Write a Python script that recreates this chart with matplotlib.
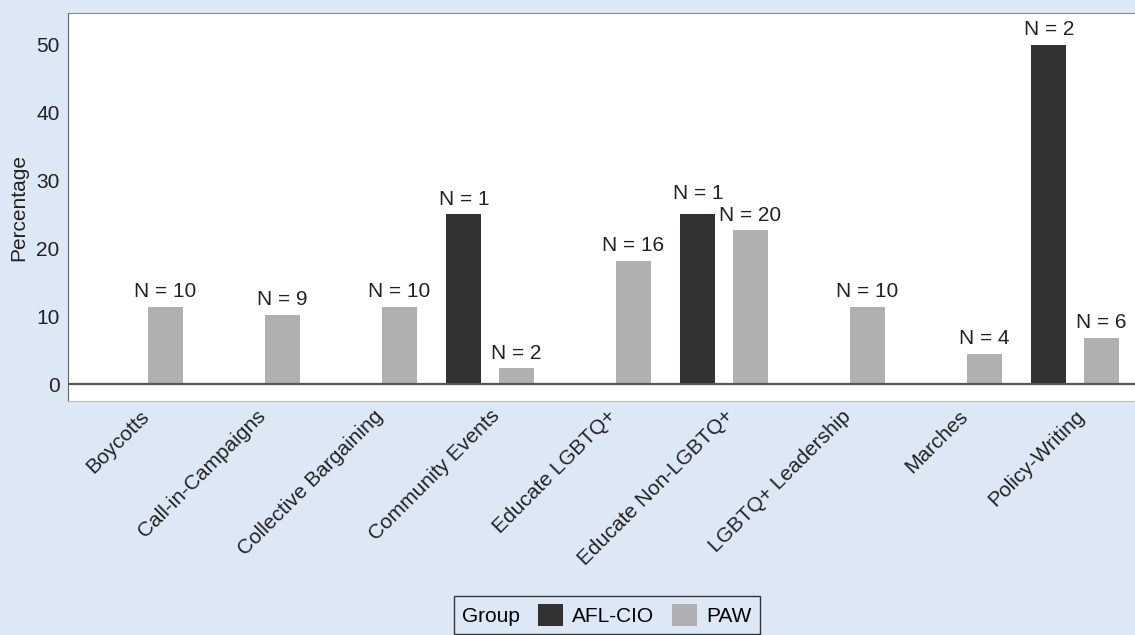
import numpy as np
import matplotlib
matplotlib.use("Agg")
import matplotlib.pyplot as plt
from matplotlib.patches import Patch

plt.rcParams['font.family'] = ['Liberation Sans', 'DejaVu Sans']

# data
categories = ["Boycotts", "Call-in-Campaigns", "Collective Bargaining",
              "Community Events", "Educate LGBTQ+", "Educate Non-LGBTQ+",
              "LGBTQ+ Leadership", "Marches", "Policy-Writing"]
afl_pct = [np.nan, np.nan, np.nan, 25.0, np.nan, 25.0, np.nan, np.nan, 50.0]
afl_n = [None, None, None, 1, None, 1, None, None, 2]
paw_pct = [11.4, 10.2, 11.4, 2.3, 18.2, 22.7, 11.4, 4.5, 6.8]
paw_n = [10, 9, 10, 2, 16, 20, 10, 4, 6]
y_ticks = [0, 10, 20, 30, 40, 50]

bg = "#dde8f6"
afl_col = "#333132"
paw_col = "#b0b0b2"
txt_col = "#222222"

fig = plt.figure(figsize=(11.35, 6.35), dpi=100, facecolor=bg)
ax = fig.add_axes([0.0599, 0.3685, 0.9401, 0.611])

x = np.arange(len(categories))
off = 0.224
w = 0.30

ax.bar(x - off, afl_pct, width=w, color=afl_col, zorder=2)
ax.bar(x + off, paw_pct, width=w, color=paw_col, zorder=2)

for xi, v, n, pv in zip(x, afl_pct, afl_n, paw_pct):
    if n is not None:
        # lift the label a bit when the neighbouring bar label is close
        dy = 8 if abs(v - pv) < 4 else 4
        ax.annotate(f"N = {n}", (xi - off, v), xytext=(0, dy),
                    textcoords="offset points", ha="center", va="bottom",
                    fontsize=15, color=txt_col)
for xi, v, n in zip(x, paw_pct, paw_n):
    ax.annotate(f"N = {n}", (xi + off, v), xytext=(0, 4),
                textcoords="offset points", ha="center", va="bottom",
                fontsize=15, color=txt_col)

ax.axhline(0, color="#555555", lw=1.6, zorder=3)

ax.set_xlim(-0.608, 8.513)
ax.set_ylim(-2.5, 54.7)
ax.set_yticks(y_ticks)
ax.set_xticks(x)
ax.set_xticklabels(categories, rotation=45, ha="right", rotation_mode="anchor")
ax.tick_params(axis="both", length=0, labelsize=15, colors=txt_col)
ax.tick_params(axis="y", pad=6)
ax.tick_params(axis="x", pad=4)
ax.set_ylabel("Percentage", fontsize=15, color=txt_col, labelpad=6)

ax.spines["right"].set_visible(False)
ax.spines["left"].set_color("#666666")
ax.spines["top"].set_color("#888888")
ax.spines["bottom"].set_color("#bbbbbb")

handles = [Patch(facecolor=afl_col), Patch(facecolor=paw_col)]
leg = fig.legend(handles, ["AFL-CIO", "PAW"], title="Group", ncol=2,
                 loc="upper center", bbox_to_anchor=(0.535, 0.0614),
                 borderaxespad=0,
                 fontsize=15, title_fontsize=15, frameon=True, fancybox=False,
                 edgecolor="#333333", facecolor=bg, framealpha=1,
                 handlelength=1.2, handleheight=1.2, handletextpad=0.45,
                 columnspacing=0.85, borderpad=0.4)
leg.get_frame().set_linewidth(1.0)
# put the title to the left of the entries
c = leg.get_children()[0]
title = c.get_children()[0]
hpack = c.get_children()[1]
c._children = [hpack]
hpack._children = [title] + hpack.get_children()

fig.savefig("out.png", dpi=100, facecolor=bg)
